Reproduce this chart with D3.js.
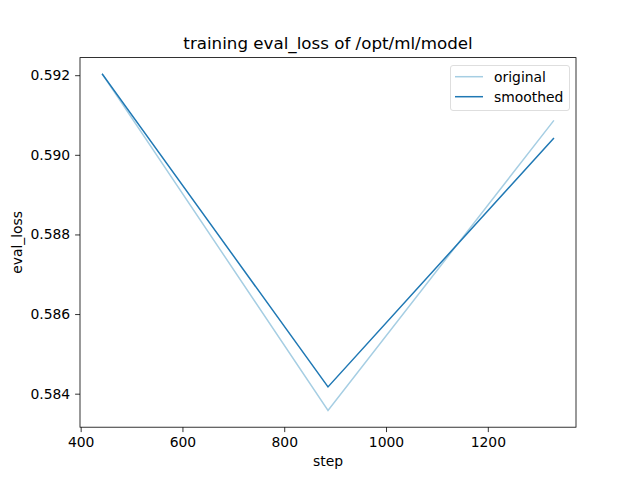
<!DOCTYPE html>
<html><head><meta charset="utf-8">
<script src="https://cdn.jsdelivr.net/npm/d3@7"></script>
<style>body{margin:0;background:#fff;} text{font-family:"DejaVu Sans",sans-serif;}</style>
</head><body>
<svg id="c" width="640" height="480"></svg>
<script>
const steps = [443, 886, 1329];
const original = [0.59202, 0.58358, 0.59085];
const smoothed = [0.59202, 0.58417, 0.59041];
const xTicks = [400, 600, 800, 1000, 1200];
const yTicks = [0.584, 0.586, 0.588, 0.590, 0.592];
const seriesNames = ["original", "smoothed"];
const colors = ["#a6cee3", "#1f78b4"];

const svg = d3.select("#c");
const L = 80, R = 576, T = 57.6, B = 427.2;
const xmin = d3.min(steps), xmax = d3.max(steps), xp = (xmax - xmin) * 0.05;
const all = original.concat(smoothed);
const ymin = d3.min(all), ymax = d3.max(all), yp = (ymax - ymin) * 0.05;
const x = d3.scaleLinear().domain([xmin - xp, xmax + xp]).range([L, R]);
const y = d3.scaleLinear().domain([ymin - yp, ymax + yp]).range([B, T]);

const xa = svg.append("g").attr("transform", `translate(0,${B})`)
  .call(d3.axisBottom(x).tickValues(xTicks).tickSize(4.9).tickPadding(4.9).tickFormat(d3.format("d")));
const ya = svg.append("g").attr("transform", `translate(${L},0)`)
  .call(d3.axisLeft(y).tickValues(yTicks).tickSize(4.9).tickPadding(4.9).tickFormat(d3.format(".3f")));
[xa, ya].forEach(a => {
  a.select(".domain").remove();
  a.selectAll("line").attr("stroke", "#000").attr("stroke-width", 0.8);
  a.selectAll("text").attr("font-size", 13.9).attr("fill", "#000").style("font-family", "DejaVu Sans");
});

const line = d3.line().x((d, i) => x(steps[i])).y(d => y(d));
[original, smoothed].forEach((s, k) => {
  svg.append("path").datum(s).attr("d", line).attr("fill", "none")
    .attr("stroke", colors[k]).attr("stroke-width", 1.5).attr("stroke-linecap", "square");
});

svg.append("rect").attr("x", L).attr("y", T).attr("width", R - L).attr("height", B - T)
  .attr("fill", "none").attr("stroke", "#000").attr("stroke-width", 0.8);

svg.append("text").attr("x", (L + R) / 2).attr("y", 49).attr("text-anchor", "middle")
  .attr("font-size", 16.7).text("training eval_loss of /opt/ml/model");
svg.append("text").attr("x", (L + R) / 2).attr("y", 466).attr("text-anchor", "middle")
  .attr("font-size", 13.9).text("step");
svg.append("text").attr("transform", `translate(22,${(T + B) / 2}) rotate(-90)`).attr("text-anchor", "middle")
  .attr("font-size", 13.9).text("eval_loss");

const lg = svg.append("g");
lg.append("rect").attr("x", 450.5).attr("y", 65.5).attr("width", 119).attr("height", 45).attr("rx", 2.5)
  .attr("fill", "#fff").attr("fill-opacity", 0.8).attr("stroke", "#d6d6d6").attr("stroke-width", 0.8);
seriesNames.forEach((n, k) => {
  const yy = 76.7 + k * 20;
  lg.append("line").attr("x1", 455).attr("x2", 483).attr("y1", yy).attr("y2", yy)
    .attr("stroke", colors[k]).attr("stroke-width", 1.5);
  lg.append("text").attr("x", 494).attr("y", yy + 5).attr("font-size", 13.9).text(n);
});
</script>
</body></html>
